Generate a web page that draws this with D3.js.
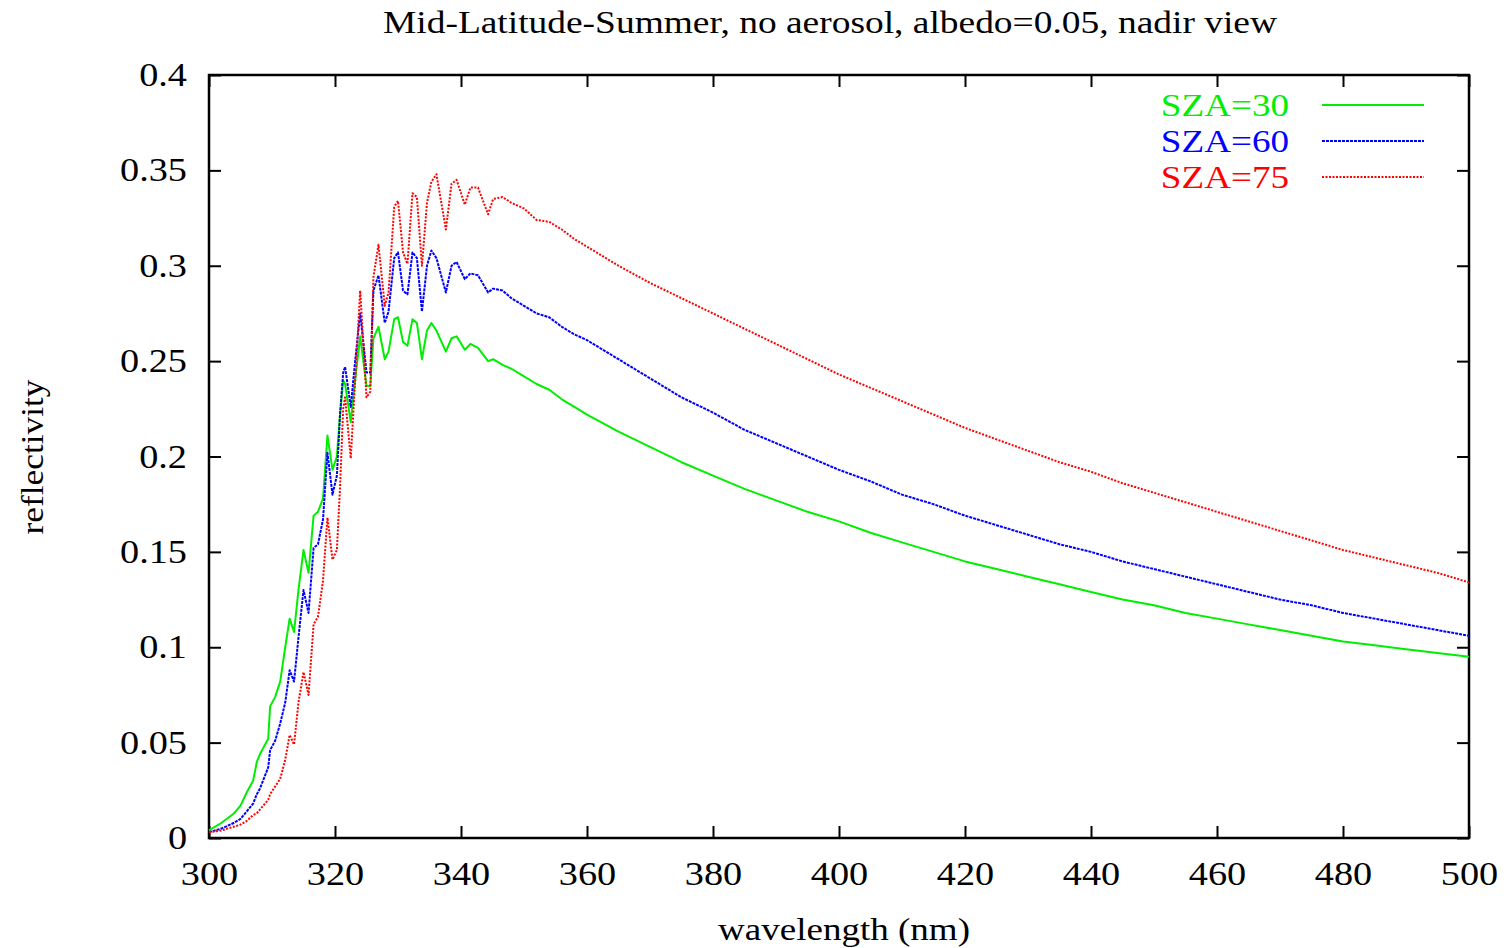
<!DOCTYPE html>
<html>
<head>
<meta charset="utf-8">
<script src="https://cdn.jsdelivr.net/npm/d3@7"></script>
<style>
  body { margin: 0; background: #fff; }
  text { font-family: "Liberation Serif", "DejaVu Serif", serif; }
</style>
</head>
<body>
<script>
// Width and height of the page
var w = 1509;
var h = 948;
var margin = {top: 75, right: 40, bottom: 110, left: 209};
var stretch = 1.16;  // the reference text is a bit wider than Liberation Serif

// wavelength grid (nm), shared by the three series
var wavelength = [300, 302, 304, 305, 306, 307, 307.6, 308.1, 309.4, 309.7, 310.5, 311.3, 312.1, 312.8, 313.5, 314.2,
  315.0, 315.8, 316.6, 317.3, 318.1, 318.8, 319.6, 320.3, 320.8, 321.3, 321.6, 322.5, 323.2, 324.0, 325.0, 325.6,
  326.1, 326.9, 327.9, 328.5, 329.4, 330.0, 330.8, 331.5, 332.3, 333.0, 333.8, 334.6, 335.3, 336.1, 337.6, 338.5,
  339.3, 340.6, 341.5, 342.7, 344.3, 345.1, 346.6, 348, 350, 352, 354, 356, 358, 360,
  365, 370, 375, 380, 385, 390, 395, 400, 405, 410, 415, 420, 425, 430, 435, 440, 445, 450, 455, 460,
  465, 470, 475, 480, 485, 490, 495, 500];

var sza30 = [0.004, 0.008, 0.013, 0.017, 0.024, 0.030, 0.040, 0.044, 0.052, 0.069, 0.074, 0.082, 0.100, 0.115, 0.108, 0.130,
  0.151, 0.139, 0.169, 0.171, 0.178, 0.211, 0.193, 0.200, 0.222, 0.240, 0.238, 0.218, 0.240, 0.263, 0.237, 0.237,
  0.262, 0.268, 0.251, 0.255, 0.272, 0.273, 0.260, 0.258, 0.272, 0.270, 0.251, 0.266, 0.270, 0.266, 0.255, 0.262,
  0.263, 0.256, 0.259, 0.257, 0.250, 0.251, 0.248, 0.246, 0.242, 0.238, 0.235, 0.230, 0.226, 0.222,
  0.213, 0.205, 0.197, 0.190, 0.183, 0.177, 0.171, 0.166, 0.160, 0.155, 0.150, 0.145, 0.141, 0.137, 0.133, 0.129,
  0.125, 0.122, 0.118, 0.115, 0.112, 0.109, 0.106, 0.103, 0.101, 0.099, 0.097, 0.095];

var sza60 = [0.003, 0.005, 0.008, 0.010, 0.014, 0.018, 0.023, 0.026, 0.037, 0.046, 0.051, 0.060, 0.071, 0.088, 0.082, 0.105,
  0.130, 0.118, 0.152, 0.154, 0.167, 0.202, 0.180, 0.190, 0.222, 0.244, 0.247, 0.226, 0.250, 0.275, 0.244, 0.244,
  0.287, 0.295, 0.270, 0.276, 0.304, 0.307, 0.287, 0.285, 0.307, 0.304, 0.276, 0.300, 0.308, 0.304, 0.286, 0.300,
  0.302, 0.293, 0.296, 0.295, 0.286, 0.288, 0.287, 0.283, 0.279, 0.275, 0.273, 0.268, 0.264, 0.261,
  0.251, 0.241, 0.231, 0.223, 0.214, 0.207, 0.200, 0.193, 0.187, 0.180, 0.175, 0.169, 0.164, 0.159, 0.154, 0.150,
  0.145, 0.141, 0.137, 0.133, 0.129, 0.125, 0.122, 0.118, 0.115, 0.112, 0.109, 0.106];

var sza75 = [0.003, 0.004, 0.006, 0.007, 0.009, 0.012, 0.013, 0.015, 0.020, 0.023, 0.027, 0.031, 0.041, 0.054, 0.049, 0.071,
  0.087, 0.075, 0.112, 0.116, 0.135, 0.168, 0.146, 0.151, 0.184, 0.225, 0.231, 0.199, 0.240, 0.287, 0.231, 0.234,
  0.294, 0.311, 0.279, 0.286, 0.331, 0.334, 0.307, 0.301, 0.338, 0.336, 0.300, 0.333, 0.344, 0.348, 0.319, 0.343,
  0.345, 0.332, 0.341, 0.341, 0.327, 0.335, 0.336, 0.333, 0.330, 0.324, 0.323, 0.319, 0.314, 0.310,
  0.300, 0.291, 0.283, 0.275, 0.267, 0.259, 0.251, 0.243, 0.236, 0.229, 0.222, 0.215, 0.209, 0.203, 0.197, 0.192,
  0.186, 0.181, 0.176, 0.171, 0.166, 0.161, 0.156, 0.151, 0.147, 0.143, 0.139, 0.134];

var seriesNames = ["SZA=30", "SZA=60", "SZA=75"];
var seriesColors = ["#00ee00", "#0000ff", "#ff0000"];
var seriesDash = [null, "3,1", "2,1.5"];

var xTicks = [300, 320, 340, 360, 380, 400, 420, 440, 460, 480, 500];
var yTicks = [0, 0.05, 0.1, 0.15, 0.2, 0.25, 0.3, 0.35, 0.4];

var pw = w - margin.left - margin.right;
var ph = h - margin.top - margin.bottom;

var svg = d3.select("body").append("svg")
            .attr("width", w)
            .attr("height", h);

var xScale = d3.scaleLinear().domain([300, 500]).range([0, pw]);
var yScale = d3.scaleLinear().domain([0, 0.4]).range([ph, 0]);

var g = svg.append("g").attr("transform", "translate(" + margin.left + "," + margin.top + ")");

// axes, ticks pointing inwards on all four sides
var yFmt = function(d) { return d === 0 ? "0" : String(+d.toFixed(2)); };

var xAxisG = g.append("g").attr("class", "axis")
  .attr("transform", "translate(0," + ph + ")")
  .call(d3.axisBottom(xScale).tickValues(xTicks).tickSize(-12).tickSizeOuter(0).tickPadding(24));
g.append("g").attr("class", "axis")
  .call(d3.axisTop(xScale).tickValues(xTicks).tickSize(-12).tickSizeOuter(0).tickFormat(""));
var yAxisG = g.append("g").attr("class", "axis")
  .call(d3.axisLeft(yScale).tickValues(yTicks).tickSize(-12).tickSizeOuter(0).tickPadding(22).tickFormat(yFmt));
g.append("g").attr("class", "axis")
  .attr("transform", "translate(" + pw + ",0)")
  .call(d3.axisRight(yScale).tickValues(yTicks).tickSize(-12).tickSizeOuter(0).tickFormat(""));

g.selectAll(".axis path").remove();
g.selectAll(".axis line").attr("stroke", "#000").attr("stroke-width", 2);
g.selectAll(".axis text")
  .attr("fill", "#000")
  .style("font-size", "33px")
  .style("font-family", "'Liberation Serif', serif");

// widen tick labels horizontally
xAxisG.selectAll("text").attr("transform", "scale(" + stretch + ",1)");
yAxisG.selectAll("text")
  .attr("x", -22 / stretch)
  .attr("transform", "scale(" + stretch + ",1)");

// frame
g.append("rect")
  .attr("width", pw).attr("height", ph)
  .attr("fill", "none").attr("stroke", "#000").attr("stroke-width", 2.5);

// lines
var series = [sza30, sza60, sza75];
var line = d3.line()
  .x(function(d, i) { return xScale(wavelength[i]); })
  .y(function(d) { return yScale(d); });

series.forEach(function(s, k) {
  g.append("path")
    .datum(s)
    .attr("fill", "none")
    .attr("stroke", seriesColors[k])
    .attr("stroke-width", 2)
    .attr("stroke-linejoin", "round")
    .attr("stroke-dasharray", seriesDash[k])
    .attr("d", line);
});

// legend
var legend = svg.append("g");
seriesNames.forEach(function(name, k) {
  var ly = 105 + k * 36;
  legend.append("text")
    .attr("transform", "translate(1289," + (ly + 11) + ") scale(" + stretch + ",1)")
    .attr("text-anchor", "end")
    .attr("fill", seriesColors[k])
    .style("font-size", "32px")
    .text(name);
  legend.append("line")
    .attr("x1", 1322).attr("x2", 1424)
    .attr("y1", ly).attr("y2", ly)
    .attr("stroke", seriesColors[k])
    .attr("stroke-width", 2)
    .attr("stroke-dasharray", seriesDash[k]);
});

// title and axis labels
svg.append("text")
  .attr("x", 830).attr("y", 33)
  .attr("text-anchor", "middle")
  .style("font-size", "31px")
  .attr("textLength", 894)
  .attr("lengthAdjust", "spacingAndGlyphs")
  .text("Mid-Latitude-Summer, no aerosol, albedo=0.05, nadir view");

svg.append("text")
  .attr("x", 844).attr("y", 940)
  .attr("text-anchor", "middle")
  .style("font-size", "32px")
  .attr("textLength", 252)
  .attr("lengthAdjust", "spacingAndGlyphs")
  .text("wavelength (nm)");

svg.append("text")
  .attr("transform", "translate(43,457) rotate(-90)")
  .attr("text-anchor", "middle")
  .style("font-size", "32px")
  .attr("textLength", 155)
  .attr("lengthAdjust", "spacingAndGlyphs")
  .text("reflectivity");
</script>
</body>
</html>
